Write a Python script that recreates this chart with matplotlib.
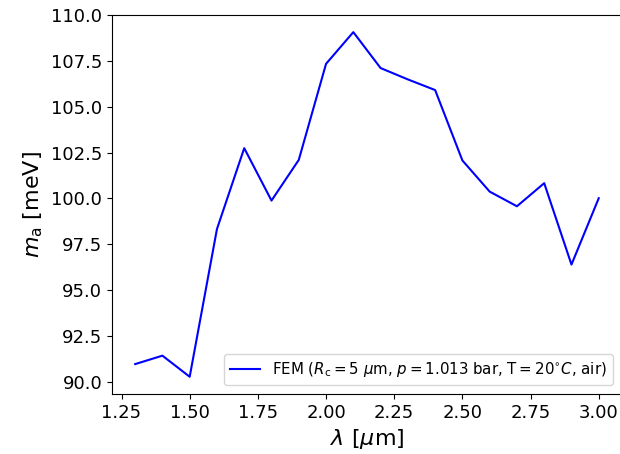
import matplotlib
matplotlib.use('Agg')
import matplotlib.pyplot as plt

# wavelength [um] and fitted mass [meV]
wavelength = [1.3, 1.4, 1.5, 1.6, 1.7, 1.8, 1.9, 2.0, 2.1, 2.2,
              2.3, 2.4, 2.5, 2.6, 2.7, 2.8, 2.9, 3.0]
mass = [90.96, 91.42, 90.27, 98.33, 102.74, 99.88, 102.10, 107.34, 109.07, 107.11,
        106.49, 105.91, 102.07, 100.37, 99.57, 100.83, 96.39, 100.01]

fig = plt.figure(figsize=(6.2, 4.54), dpi=100)
ax = fig.add_axes([0.1806, 0.1322, 0.8225, 0.835])

ax.plot(wavelength, mass, color='blue', linewidth=1.5,
        label=r'FEM ($R_{\rm c} = 5\ \mu$m, $p = 1.013$ bar, T$=20^{\circ}C$, air)')

# the original figure is cut off just before the right spine
ax.spines['right'].set_visible(False)

ax.set_xlabel(r'$\lambda$ [$\mu$m]', fontsize=16)
ax.set_ylabel(r'$m_{\rm a}$ [meV]', fontsize=16)
ax.tick_params(labelsize=13)
ax.legend(loc='lower right', fontsize=10.8, borderaxespad=0.6)

fig.savefig('out.png', dpi=100)
